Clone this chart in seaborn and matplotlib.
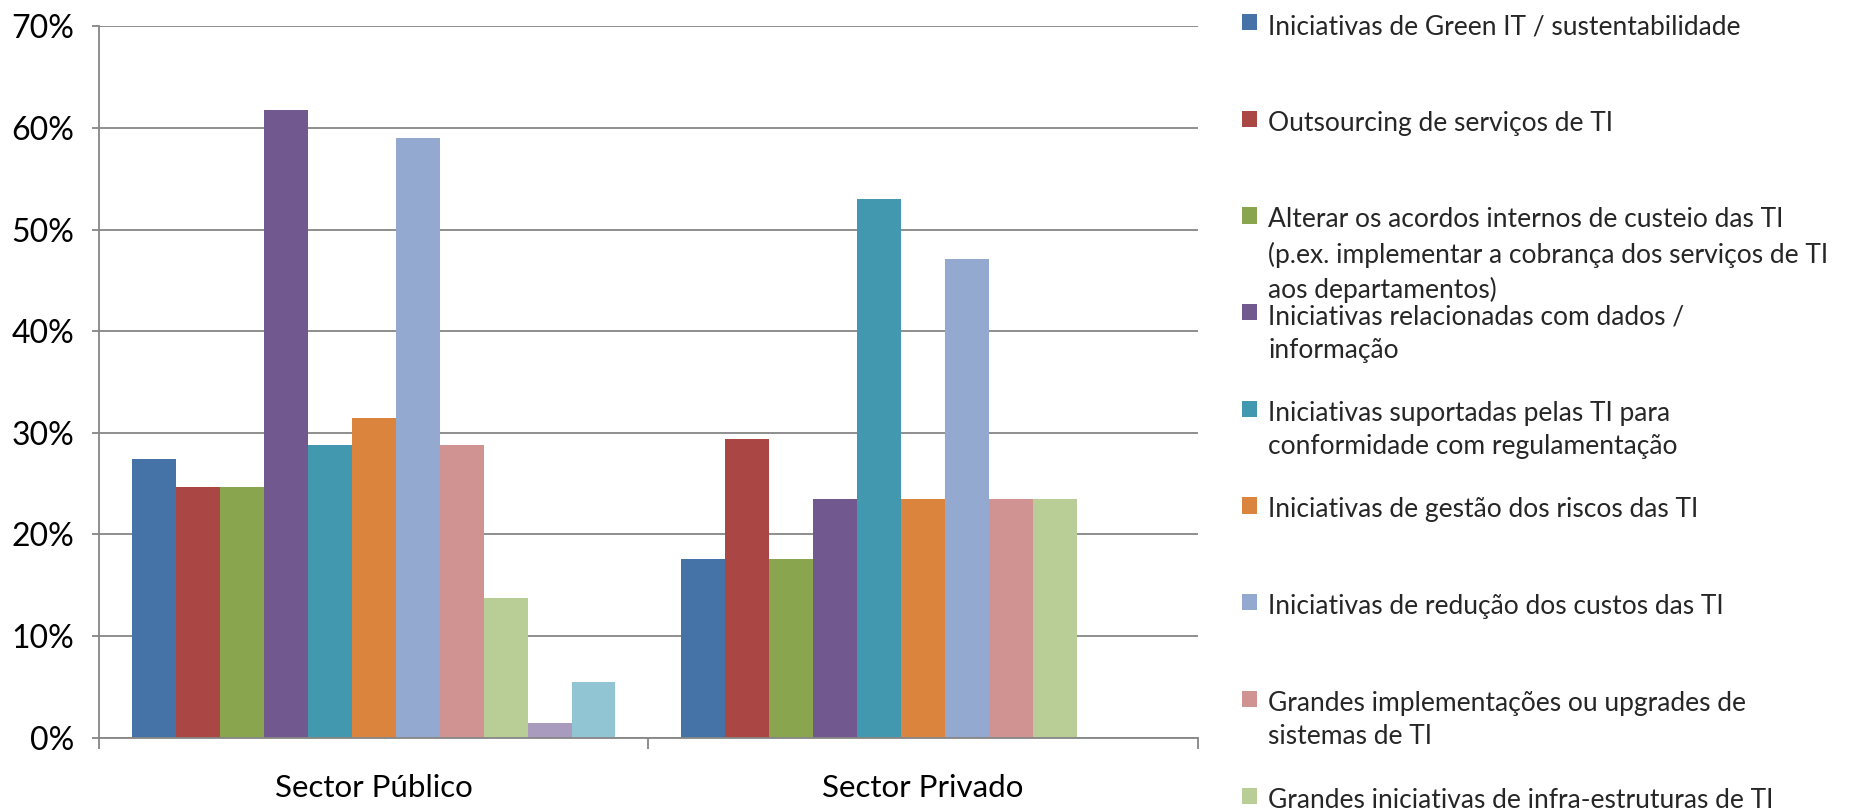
import pandas as pd
import matplotlib as mpl
mpl.use("Agg")
import matplotlib.pyplot as plt
import seaborn as sns
from matplotlib.ticker import FuncFormatter, FixedLocator

sns.set_theme(style="white")
plt.rcParams['font.family'] = ['Lato', 'DejaVu Sans']

# data (share of respondents)
sectores = ["Sector Público", "Sector Privado"]
iniciativas = [
    "Iniciativas de Green IT / sustentabilidade",
    "Outsourcing de serviços de TI",
    "Alterar os acordos internos de custeio das TI\n(p.ex. implementar a cobrança dos serviços de TI\naos departamentos)",
    "Iniciativas relacionadas com dados /\ninformação",
    "Iniciativas suportadas pelas TI para\nconformidade com regulamentação",
    "Iniciativas de gestão dos riscos das TI",
    "Iniciativas de redução dos custos das TI",
    "Grandes implementações ou upgrades de\nsistemas de TI",
    "Grandes iniciativas de infra-estruturas de TI",
    "Outras",
    "Não sabe / não responde",
]
publico = [0.274, 0.247, 0.247, 0.618, 0.288, 0.315, 0.590, 0.288, 0.137, 0.014, 0.055]
privado = [0.176, 0.294, 0.176, 0.235, 0.530, 0.235, 0.471, 0.235, 0.235, 0.0, 0.0]
cores = ["#4572A7", "#AA4643", "#89A54E", "#71588F", "#4198AF", "#DB843D",
         "#93A9CF", "#D19392", "#B9CD96", "#A99BBD", "#92C5D3"]
n_legenda = 9

df = pd.DataFrame({
    "sector": [sectores[0]] * len(iniciativas) + [sectores[1]] * len(iniciativas),
    "iniciativa": iniciativas * 2,
    "valor": publico + privado,
})

W, H = 1850, 811
fig = plt.figure(figsize=(W / 100, H / 100), dpi=100)
ax = fig.add_axes([0.0535, 0.0905, 0.594, 0.877])

sns.barplot(data=df, x="sector", y="valor", hue="iniciativa", hue_order=iniciativas,
            order=sectores, palette=cores, width=0.88, saturation=1, legend=False,
            linewidth=0, ax=ax)

grey = "#868686"
ax.set_ylim(0, 0.70)
ax.set_xlim(-0.5, 1.5)
ax.set_yticks([i / 10 for i in range(8)])
ax.yaxis.set_major_formatter(FuncFormatter(lambda v, p: f"{v * 100:.0f}%"))
ax.grid(axis="y", color=grey, linewidth=1.3)
ax.set_axisbelow(True)
for s in ["top", "right"]:
    ax.spines[s].set_visible(False)
for s in ["left", "bottom"]:
    ax.spines[s].set_color(grey)
    ax.spines[s].set_linewidth(1.3)
ax.tick_params(axis="y", which="major", length=5, color=grey, width=1.3,
               labelsize=23, labelcolor="black", pad=13, left=True)
ax.xaxis.set_minor_locator(FixedLocator([-0.5, 0.5, 1.5]))
ax.tick_params(axis="x", which="minor", length=8, color=grey, width=1.3, bottom=True)
ax.tick_params(axis="x", which="major", length=0, labelsize=22.5, pad=26, labelcolor="black")
ax.set_xlabel("")
ax.set_ylabel("")

# Excel style legend: one entry per fixed slot, square next to the first line
slot_top, slot_step = 14.0, 96.7
for i in range(n_legenda):
    leg = fig.legend([ax.containers[i]], [iniciativas[i]], loc="upper left",
                     bbox_to_anchor=(1242 / W, 1 - (slot_top + slot_step * i) / H),
                     frameon=False, fontsize=19, handlelength=0.57, handleheight=0.57,
                     handletextpad=0.42, borderaxespad=0.0, borderpad=0.0)
    for t in leg.get_texts():
        t.set_linespacing(1.43)
    for col in leg._legend_handle_box.get_children():
        for item in col.get_children():
            item.align = "top"

fig.savefig("out.png", dpi=100)
